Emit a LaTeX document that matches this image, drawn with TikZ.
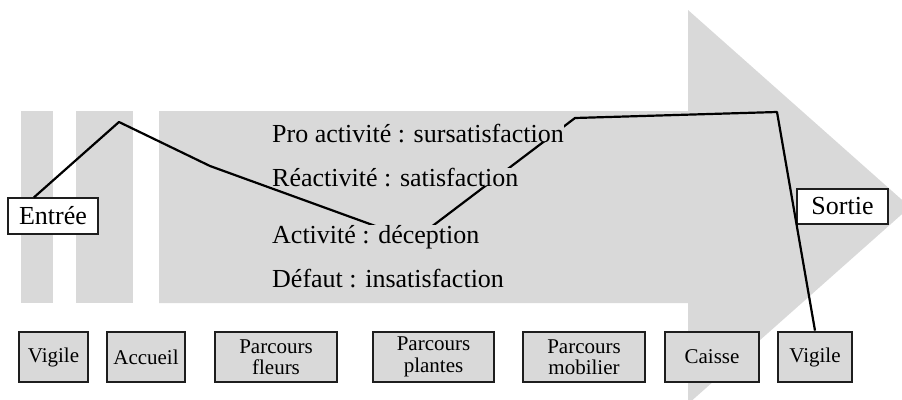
\documentclass[tikz,border=0pt]{standalone}
\usepackage{fontspec}
\setmainfont{Liberation Serif}
\usetikzlibrary{calc}
\definecolor{panel}{RGB}{217,217,217}
\definecolor{ink}{RGB}{30,30,30}
\begin{document}
\begin{tikzpicture}[x=1pt,y=-1pt,
  stage/.style={draw=ink, line width=1.3pt, fill=panel, minimum height=50pt,
    inner sep=0pt, align=center, font=\fontsize{21}{21.5}\selectfont},
  tag/.style={draw=ink, line width=1.1pt, fill=white, minimum height=36pt,
    inner sep=0pt, font=\fontsize{26}{30}\selectfont},
  level/.style={fill=panel, inner sep=0pt, anchor=base west,
    font=\fontsize{26}{30}\selectfont},
  journey/.style={draw=black, line width=2.2pt, line join=round}]
\useasboundingbox (0,0) rectangle (902,399);
\clip (0,0) rectangle (902,399);

% flow band: two entrance strips and the large arrow
\fill[panel] (21,111) rectangle (53,303);
\fill[panel] (76,111) rectangle (133,303);
\fill[panel] (159,111) -- (688,111) -- (688,10) -- (910,207) -- (688,404)
  -- (688,303) -- (159,303) -- cycle;

% entry / exit labels
\node[tag, minimum width=90pt] (entree) at (53,216) {Entrée};
\node[tag, minimum width=91pt, minimum height=35pt] (sortie) at (842.5,206.5) {Sortie};

% stages of the visit
\node[stage, minimum width=69pt] (vig1) at (53.5,357) {Vigile};
\node[stage, minimum width=78pt] (accueil) at (146,357) {Accueil};
\node[stage, minimum width=122pt] (fleurs) at (276,357) {Parcours\\fleurs};
\node[stage, minimum width=121pt] (plantes) at (433.5,357) {Parcours\\plantes};
\node[stage, minimum width=122pt] (mobilier) at (584,357) {Parcours\\mobilier};
\node[stage, minimum width=94pt] (caisse) at (712,357) {Caisse};
\node[stage, minimum width=74pt, line width=2.8pt] (vig2) at (815,357) {Vigile};

% satisfaction curve
\coordinate (start) at ($(entree.north west)!0.29!(entree.north east)$);
\coordinate (peak) at (119,122);
\coordinate (bend) at (210,166);
\coordinate (low) at (414,240);
\coordinate (high) at (575,118);
\coordinate (corner) at (777,112);
\draw[journey] (start) -- (peak) -- (bend) -- (low) -- (high) -- (corner) -- (vig2.north);

% satisfaction levels
\node[level] (pro) at (272,142) {Pro activité : sursatisfaction};
\node[level] (reac) at (272,186) {Réactivité : satisfaction};
\node[level] (act) at (272,243) {Activité : déception};
\node[level] (def) at (272,287) {Défaut : insatisfaction};
\end{tikzpicture}
\end{document}
